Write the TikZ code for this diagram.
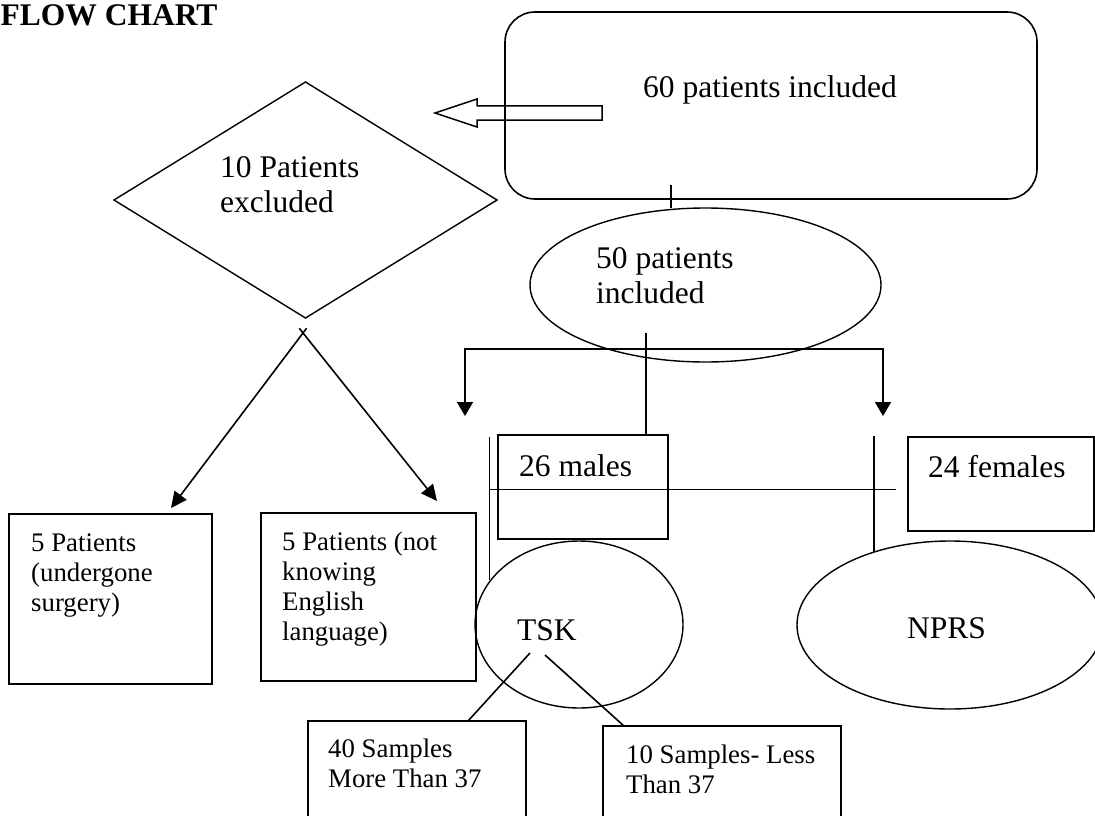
\documentclass[tikz,border=0pt]{standalone}
\usepackage{fontspec}
\setmainfont{Liberation Serif}
\usetikzlibrary{shapes.geometric,arrows.meta,calc}
\tikzset{
  shp/.style={draw, line width=1.6pt, inner sep=0pt, outer sep=0pt},
  boxr/.style={shp, rectangle},
  rbox/.style={shp, rectangle, rounded corners=30pt},
  ell/.style={shp, ellipse, line width=1.4pt},
  dia/.style={shp, diamond, line width=1.4pt},
  txtbig/.style={font=\fontsize{31.5}{35}\selectfont, inner sep=0pt, anchor=base west},
  txtsmall/.style={font=\fontsize{26.8}{30}\selectfont, inner sep=0pt, anchor=base west},
  conn/.style={line width=1.6pt},
  arr/.style={conn, -{Triangle[length=16pt,width=15pt]}},
  hollow/.style={line width=1.5pt, line join=miter},
}
\begin{document}
\begin{tikzpicture}[x=1pt,y=-1pt]
\useasboundingbox (0,0) rectangle (1095,816);
\clip (0,0) rectangle (1095,816);

% title
\node[txtbig, font=\fontsize{31.5}{35}\selectfont\bfseries] (tTitle) at (0.5,26) {FLOW CHART};

% shapes
\node[rbox, minimum width=532pt, minimum height=187pt] (box60) at (771,105.5) {};
\node[dia, minimum width=383pt, minimum height=236pt] (dia10) at (305.5,200) {};
\node[ell, minimum width=351pt, minimum height=154pt] (ell50) at (705.5,285) {};
\node[boxr, minimum width=170pt, minimum height=104pt] (box26) at (583,487) {};
\node[boxr, minimum width=186pt, minimum height=94pt] (box24) at (1001,484) {};
\node[boxr, minimum width=203pt, minimum height=170pt] (boxL) at (110.5,599) {};
\node[boxr, minimum width=215pt, minimum height=168pt] (boxM) at (368.5,597) {};
\node[ell, minimum width=208pt, minimum height=167pt] (tsk) at (579,624.5) {};
\node[ell, minimum width=306pt, minimum height=168pt] (nprs) at (950,625) {};
\node[boxr, minimum width=218pt, minimum height=119pt] (box40) at (417,780.5) {};
\node[boxr, minimum width=238pt, minimum height=114pt] (box10) at (722,783) {};

% texts
\node[txtbig] (t60) at (643,97) {60 patients included};
\node[txtbig] (t10) at (220,177) {\begin{tabular}[t]{@{}l@{}}10 Patients\\excluded\end{tabular}};
\node[txtbig] (t50) at (596,268) {\begin{tabular}[t]{@{}l@{}}50 patients\\included\end{tabular}};
\node[txtbig] (t26) at (519,476) {26 males};
\node[txtbig] (t24) at (928,477) {24 females};
\node[txtbig] (tTSK) at (517,640) {TSK};
\node[txtbig] (tNPRS) at (907,638) {NPRS};
\node[txtsmall] (tL) at (31,551) {\begin{tabular}[t]{@{}l@{}}5 Patients\\(undergone\\surgery)\end{tabular}};
\node[txtsmall] (tM) at (282,550) {\begin{tabular}[t]{@{}l@{}}5 Patients (not\\knowing\\English\\language)\end{tabular}};
\node[txtsmall] (t40) at (328,757) {\begin{tabular}[t]{@{}l@{}}40 Samples\\More Than 37\end{tabular}};
\node[txtsmall] (t10s) at (626,763) {\begin{tabular}[t]{@{}l@{}}10 Samples- Less\\Than 37\end{tabular}};

% hollow arrow from box60 toward diamond
\coordinate (haR) at (602,113);
\coordinate (haT) at (435,113);
\draw[hollow] ($(haR)+(0,-7.2)$) -- ($(haT)+(42,-7.2)$) -- ($(haT)+(42,-14)$) -- (haT)
  -- ($(haT)+(42,14)$) -- ($(haT)+(42,7.2)$) -- ($(haR)+(0,7.2)$) -- cycle;

% tick from box60 to ell50
\coordinate (tk) at (671,185);
\draw[conn] (tk) -- (tk |- ell50.north);

% bracket with two arrows
\coordinate (brL) at (465,416);
\coordinate (brLc) at (465,349);
\coordinate (brRc) at (883,349);
\coordinate (brR) at (883,416);
\draw[conn, {Triangle[length=14pt,width=16pt]}-{Triangle[length=14pt,width=16pt]}]
  (brL) -- (brLc) -- (brRc) -- (brR);

% line from ell50 to box26
\coordinate (v50) at (646,333);
\draw[conn] (v50) -- (v50 |- box26.north);

% arrows from diamond bottom (crossing at their start, forming a small x)
\coordinate (dxL) at (306.6,328.2);
\coordinate (dxR) at (299.3,328.3);
\coordinate (aL) at (171,508);
\coordinate (aR) at (437,501);
\draw[arr] (dxL) -- (aL);
\draw[arr] (dxR) -- (aR);

% lines around males / females
\coordinate (vmA) at (489.5,437);
\coordinate (vmB) at (489.5,580);
\draw[conn] (vmA) -- (vmB);
\coordinate (hA) at (489.5,489.5);
\coordinate (hB) at (896,489.5);
\draw[conn] (hA) -- (hB);
\coordinate (vfA) at (874,436);
\coordinate (vfB) at (874,552);
\draw[conn] (vfA) -- (vfB);

% TSK to sample boxes
\coordinate (s1a) at (530,653);
\coordinate (s1b) at (468,721);
\coordinate (s2a) at (545,655);
\coordinate (s2b) at (624,726);
\draw[conn] (s1a) -- (s1b);
\draw[conn] (s2a) -- (s2b);
\end{tikzpicture}
\end{document}
